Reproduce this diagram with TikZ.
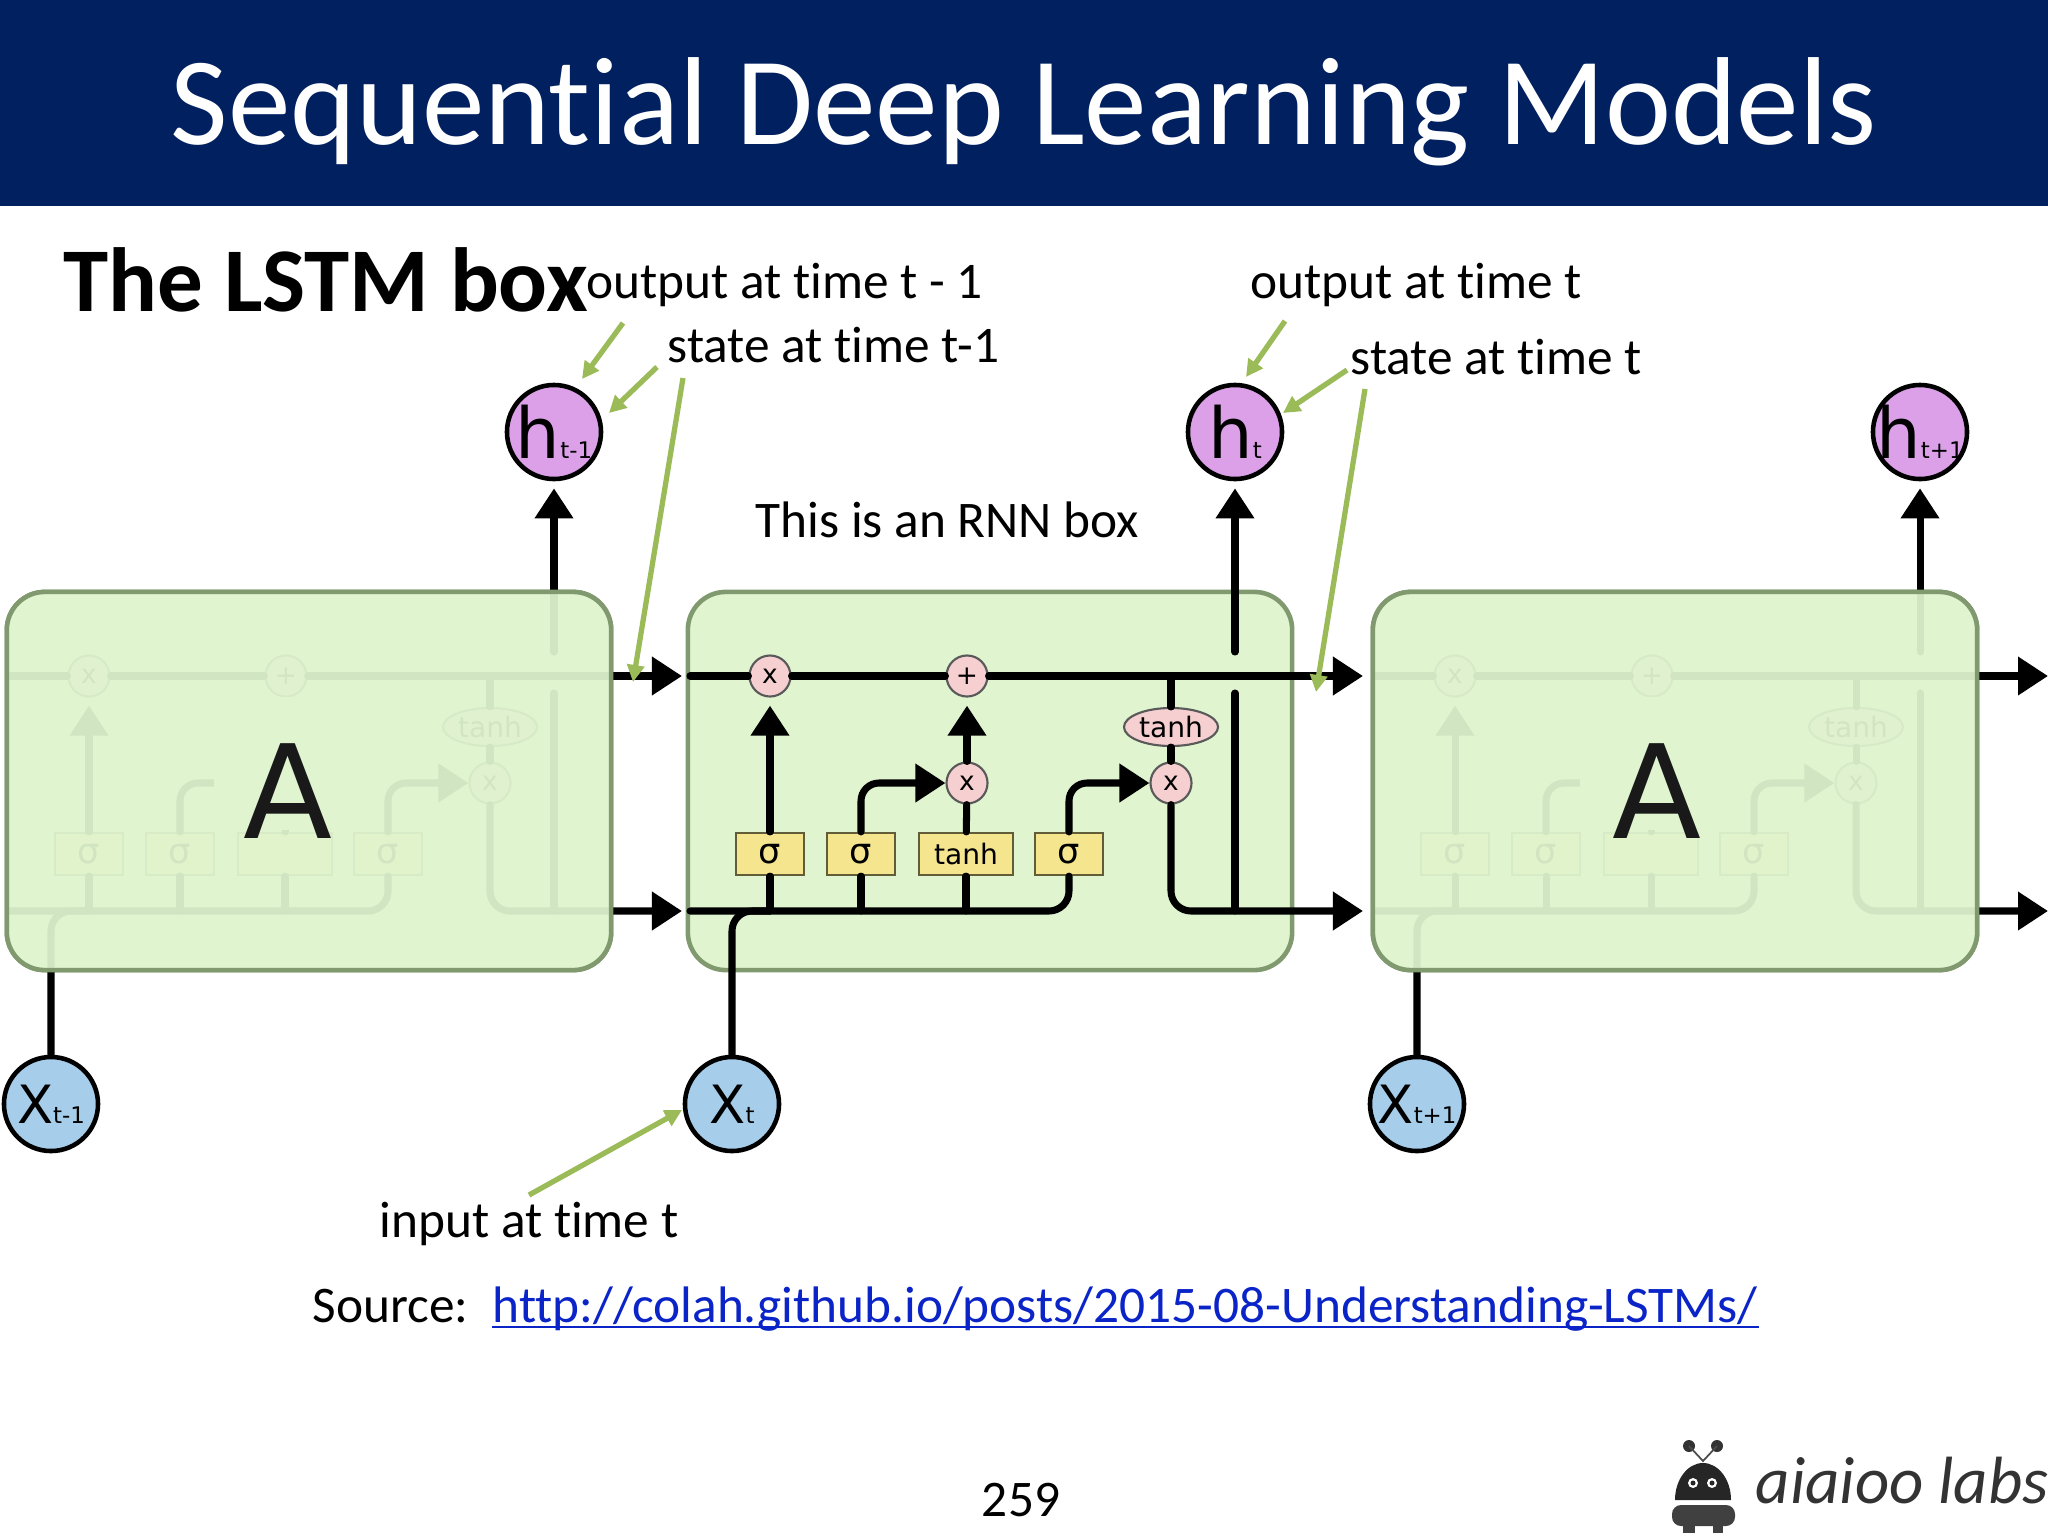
\documentclass[tikz,border=0pt]{standalone}
\usepackage{fontspec}
\setmainfont[RawFeature=-liga]{Carlito}
\newfontfamily\cellfont{DejaVu Sans}
\newfontfamily\logofont{Carlito}
\usetikzlibrary{arrows.meta, shapes.geometric}

\definecolor{bandblue}{HTML}{002060}
\definecolor{cellgreen}{HTML}{DFF4CF}
\definecolor{cellrim}{HTML}{80996E}
\definecolor{gatepink}{HTML}{F6CFD0}
\definecolor{layeryellow}{HTML}{F5E58E}
\definecolor{statepurple}{HTML}{DBA0E8}
\definecolor{inputblue}{HTML}{A6CDEA}
\definecolor{notegreen}{HTML}{9BBB59}
\definecolor{linkblue}{HTML}{0B24C8}

\tikzset{
    wire/.style={line width=2pt, line cap=round},
    tip/.style={-{Triangle[length=.3cm, width=.37cm]}},
    cellbox/.style={draw=cellrim, line width=1.3pt, rounded corners=.38cm, fill=cellgreen,
                    minimum width=6.04cm, minimum height=3.78cm, inner sep=0pt},
    gate/.style={draw=black!65, line width=.6pt, fill=gatepink, circle, minimum size=.41cm,
                 inner sep=0pt, font=\cellfont\fontsize{7.5}{8}\selectfont},
    squash/.style={draw=black!65, line width=.6pt, fill=gatepink, ellipse, minimum width=.94cm,
                   minimum height=.38cm, inner sep=0pt, font=\cellfont\fontsize{8}{9}\selectfont},
    layer/.style={draw=black!60!layeryellow, line width=.6pt, fill=layeryellow, minimum height=.42cm,
                  minimum width=.68cm, inner sep=0pt, font=\cellfont\fontsize{10}{11}\selectfont},
    state/.style={draw=black, line width=1.3pt, fill=statepurple, circle, minimum size=.94cm, inner sep=-.4cm},
    input/.style={draw=black, line width=1.3pt, fill=inputblue, circle, minimum size=.94cm, inner sep=-.4cm},
    veil/.style={cellbox, fill opacity=.94},
    bigletter/.style={anchor=base, inner sep=0pt, text=black!90, font=\cellfont\fontsize{37}{40}\selectfont},
    note/.style={anchor=base west, inner sep=0pt, font=\fontsize{14.6}{17}\selectfont},
    pointer/.style={draw=notegreen, line width=1.5pt, -{Triangle[length=.17cm, width=.17cm]}},
}

% one repeating unit, #1 name, #2 x offset, #3 subscript, #4 inner gate label, #5 inner layer label
\newcommand{\lstmcell}[5]{
    \begin{scope}[shift={(#2,0)}]
        \node[cellbox] (#1box) at (990,781) {};
        \node[gate]    (#1f)  at (770,676)  {x};
        \node[gate]    (#1a)  at (967,676)  {+};
        \node[gate]    (#1m)  at (967,783)  {#4};
        \node[gate]    (#1o)  at (1171,783) {x};
        \node[squash]  (#1t)  at (1171,727) {tanh};
        \node[layer]   (#1s1) at (770,854)  {σ};
        \node[layer]   (#1s2) at (861,854)  {σ};
        \node[layer, minimum width=.94cm, font=\cellfont\fontsize{8}{9}\selectfont]
                       (#1s3) at (966,854)  {#5};
        \node[layer]   (#1s4) at (1069,854) {σ};
        \node[state]   (#1h)  at (1235,432) {{\cellfont\fontsize{20}{20}\selectfont h}{\cellfont\fontsize{6.5}{7}\selectfont #3}};
        \node[input]   (#1x)  at (732,1104) {{\cellfont\fontsize{15}{20}\selectfont X}{\cellfont\fontsize{6.5}{7}\selectfont #3}};

        \coordinate (#1topin)  at (690,676);
        \coordinate (#1topout) at (1363,676);
        \coordinate (#1botin)  at (690,911);
        \coordinate (#1botout) at (1363,911);
        \coordinate (#1join)   at (1171,676);
        \coordinate (#1gapup)  at (1235,652);
        \coordinate (#1gapdn)  at (1235,693);
        \coordinate (#1outj)   at (1235,911);
        \coordinate (#1bj1)    at (770,911);
        \coordinate (#1bj2)    at (861,911);
        \coordinate (#1bj3)    at (966,911);
        \coordinate (#1inj)    at (770,911);

        \draw[wire] (#1topin) -- (#1f);
        \draw[wire] (#1f) -- (#1a);
        \draw[wire, tip] (#1a) -- (#1topout);
        \draw[wire, rounded corners=.2cm] (#1botin) -| (#1s4.south);
        \draw[wire] (#1s1) -- (#1bj1);
        \draw[wire] (#1s2) -- (#1bj2);
        \draw[wire] (#1s3) -- (#1bj3);
        \draw[wire, rounded corners=.2cm] (#1x.north) |- (#1inj);
        \draw[wire, tip, shorten >=.08cm] (#1s1) -- (#1f);
        \draw[wire] (#1s3) -- (#1m);
        \draw[wire, tip, shorten >=.08cm] (#1m) -- (#1a);
        \draw[wire, tip, rounded corners=.18cm] (#1s2.north) |- (#1m.west);
        \draw[wire, tip, rounded corners=.18cm] (#1s4.north) |- (#1o.west);
        \draw[wire] (#1join) -- (#1t);
        \draw[wire] (#1t) -- (#1o);
        \draw[wire, tip, rounded corners=.2cm] (#1o.south) |- (#1botout);
        \draw[wire] (#1gapdn) -- (#1outj);
        \draw[wire, tip, shorten >=.07cm] (#1gapup) -- (#1h.south);
    \end{scope}
}

\begin{document}
\begin{tikzpicture}[x=.01cm, y=-.01cm]
    \useasboundingbox (0,0) rectangle (2048,1536);

    \fill[bandblue] (0,0) rectangle (2048,206);
    \node[anchor=base, inner sep=0pt, text=white, font=\fontsize{35.6}{40}\selectfont] (title) at (1024,144)
        {Sequential Deep Learning Models};
    \node[note, font=\bfseries\fontsize{25.9}{30}\selectfont] (heading) at (63,311) {The LSTM box};

    % the three units, outer two veiled
    \lstmcell{p}{-681}{t-1}{}{}
    \fill[cellgreen] (214,697) rectangle (370,830);
    \lstmcell{c}{0}{t}{x}{tanh}
    \lstmcell{n}{685}{t+1}{}{}
    \fill[cellgreen] (1580,697) rectangle (1736,830);
    \node[veil] (pveil) at (309,781) {};
    \node[veil] (nveil) at (1675,781) {};
    \node[bigletter] (pname) at (288,838) {A};
    \node[bigletter] (nname) at (1657,838) {A};

    \node[note] (outprev)  at (586,298)  {output at time t - 1};
    \node[note] (stateprev) at (667,362) {state at time t-1};
    \node[note] (outnow)   at (1250,298) {output at time t};
    \node[note] (statenow) at (1350,374) {state at time t};
    \node[note] (rnnnote)  at (755,537)  {This is an RNN box};
    \node[note] (innote)   at (379,1237) {input at time t};
    \node[note] (source)   at (312,1322) {Source:};
    \node[note, text=linkblue] (link) at (492,1322) {http://colah.github.io/posts/2015-08-Understanding-LSTMs/};
    \draw[linkblue, line width=.5pt] ([yshift=-.05cm]link.base west) -- ([yshift=-.05cm]link.base east);
    \node[anchor=base, inner sep=0pt, font=\fontsize{14.6}{17}\selectfont] (page) at (1021,1516) {259};

    \coordinate (a1) at (623,323);  \coordinate (b1) at (582,379);
    \coordinate (a2) at (657,367);  \coordinate (b2) at (609,413);
    \coordinate (a3) at (683,378);  \coordinate (b3) at (633,682);
    \coordinate (a4) at (1285,321); \coordinate (b4) at (1246,377);
    \coordinate (a5) at (1347,370); \coordinate (b5) at (1283,413);
    \coordinate (a6) at (1365,389); \coordinate (b6) at (1316,692);
    \coordinate (a7) at (529,1195); \coordinate (b7) at (682,1110);
    \foreach \n in {1,...,7}
        \draw[pointer] (a\n) -- (b\n);

    % logo
    \fill[black!80] (1689,1446) circle (6);
    \fill[black!80] (1717,1446) circle (6);
    \draw[black!70, line width=.5pt] (1689,1446) -- (1703,1461) -- (1717,1446);
    \fill[black!85] (1675,1500) arc[start angle=180, end angle=0, x radius=28, y radius=-37] -- cycle;
    \fill[white] (1693,1483) circle (5);
    \fill[white] (1712,1483) circle (5);
    \fill[black!85] (1693,1483) circle (2.5);
    \fill[black!85] (1712,1483) circle (2.5);
    \fill[black!75, rounded corners=.09cm] (1672,1505) rectangle (1735,1526);
    \fill[black!75] (1683,1520) rectangle (1695,1533);
    \fill[black!75] (1713,1520) rectangle (1723,1533);
    \node[anchor=base west, inner sep=0pt, text=black!80, font=\logofont\itshape\fontsize{19}{20}\selectfont] (logo) at (1755,1503) {aiaioo labs};
\end{tikzpicture}
\end{document}
